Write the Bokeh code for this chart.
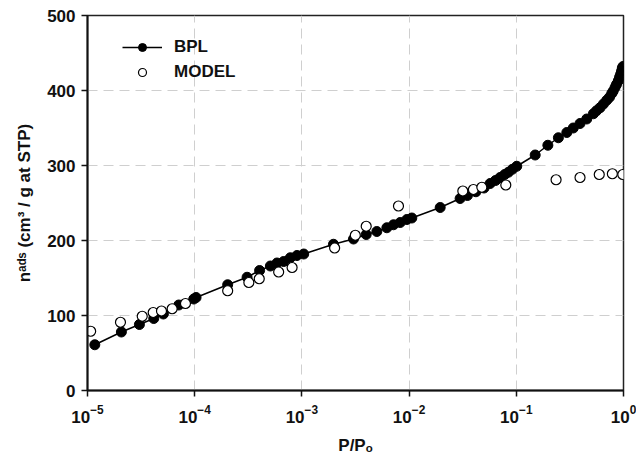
from bokeh.plotting import figure
from bokeh.models import FixedTicker, LogTickFormatter
from bokeh.embed import file_html
from bokeh.resources import INLINE

# ---- data ----
bpl_x = [1.17e-5, 2.07e-5, 3.05e-5, 4.15e-5, 5.1e-5, 7.1e-5, 9.8e-5, 1.03e-4,
         2.03e-4, 3.08e-4, 4.03e-4, 5.08e-4, 5.86e-4, 6.76e-4, 7.8e-4, 9.0e-4,
         1.04e-3, 1.97e-3, 3.03e-3, 3.98e-3, 5.0e-3, 6.2e-3, 7.16e-3, 8.26e-3,
         9.54e-3, 1.06e-2, 1.95e-2, 2.99e-2, 3.5e-2, 4.2e-2, 5.0e-2, 5.7e-2,
         6.4e-2, 7.06e-2, 7.8e-2, 8.44e-2, 9.2e-2, 0.101, 0.15, 0.197, 0.247,
         0.296, 0.34, 0.393, 0.454, 0.524, 0.56, 0.604, 0.65, 0.698, 0.74,
         0.777, 0.80, 0.834, 0.86, 0.895, 0.92, 0.942, 0.96, 0.975, 0.99]
bpl_y = [61, 78, 88, 96, 102, 114, 122, 124,
         141, 151, 160, 166, 170, 172, 177, 180,
         182, 195, 202, 208, 212, 217, 221, 224,
         228, 230, 244, 256, 260, 265, 270, 276,
         280, 284, 288, 291, 295, 299, 314, 327, 337,
         344, 350, 356, 362, 369, 373, 377, 382, 387, 391,
         396, 399, 404, 408, 413, 418, 422, 426, 430, 432]

model_x = [1.07e-5, 2.03e-5, 3.24e-5, 4.1e-5, 4.9e-5, 6.16e-5, 8.2e-5, 2.03e-4,
           3.2e-4, 4.0e-4, 6.07e-4, 8.1e-4, 2.02e-3, 3.15e-3, 3.98e-3, 7.96e-3,
           3.17e-2, 3.98e-2, 4.77e-2, 7.98e-2, 0.235, 0.393, 0.594, 0.787, 0.985]
model_y = [79, 91, 99, 104, 106, 109, 116, 133,
           144, 149, 158, 164, 190, 207, 219, 246,
           266, 268, 271, 274, 281, 284, 288, 289, 288]

x_ticks = [1e-5, 1e-4, 1e-3, 1e-2, 1e-1, 1]
y_ticks = [0, 100, 200, 300, 400, 500]

FONT = "Liberation Sans"
INK = "#111111"

p = figure(width=636, height=462, x_axis_type="log",
           x_range=(1e-5, 1), y_range=(0, 500),
           output_backend="svg", toolbar_location=None,
           min_border_left=87, min_border_right=13,
           min_border_top=15, min_border_bottom=72)
p.background_fill_color = "white"
p.border_fill_color = "white"
p.outline_line_color = "#222222"
p.outline_line_width = 1.5

# line + filled markers (BPL)
p.line(bpl_x, bpl_y, line_color="black", line_width=1.5, legend_label="BPL")
p.scatter(bpl_x, bpl_y, size=10, fill_color="black", line_color="black",
          legend_label="BPL")
# open markers (MODEL)
p.scatter(model_x, model_y, size=10, fill_color="white", line_color="black",
          line_width=1.2, legend_label="MODEL")

# axes
p.xaxis.ticker = FixedTicker(ticks=x_ticks, minor_ticks=[])
p.xaxis.formatter = LogTickFormatter()
p.yaxis.ticker = FixedTicker(ticks=y_ticks, minor_ticks=[])

for ax in (p.xaxis, p.yaxis):
    ax.axis_line_width = 2
    ax.axis_line_color = INK
    ax.major_tick_line_width = 1.5
    ax.major_tick_line_color = INK
    ax.major_tick_out = 6
    ax.major_tick_in = 0
    ax.minor_tick_out = 0
    ax.minor_tick_in = 0
    ax.major_label_text_font = FONT
    ax.major_label_text_font_style = "bold"
    ax.major_label_text_font_size = "17px"
    ax.major_label_text_color = INK
    ax.axis_label_text_font = FONT
    ax.axis_label_text_font_style = "bold"
    ax.axis_label_text_font_size = "17px"
    ax.axis_label_text_color = INK

p.xaxis.major_label_standoff = 8
p.xaxis.axis_label = "P/P\u2092"
p.xaxis.axis_label_standoff = 10
p.yaxis.major_label_standoff = 6
p.yaxis.axis_label = "n\u1d43\u1d48\u02e2 (cm\u00b3 / g at STP)"
p.yaxis.axis_label_standoff = 10

# grid
for g in (p.xgrid, p.ygrid):
    g.grid_line_color = "#cfcfcf"
    g.grid_line_width = 1
    g.grid_line_dash = "10 6"

# legend
p.legend.location = (35, 308)
p.legend.border_line_color = None
p.legend.background_fill_alpha = 0
p.legend.label_text_font = FONT
p.legend.label_text_font_style = "bold"
p.legend.label_text_font_size = "17px"
p.legend.label_text_color = INK
p.legend.glyph_width = 40
p.legend.glyph_height = 20
p.legend.spacing = 5
p.legend.padding = 5
p.legend.label_standoff = 12
p.legend.margin = 0

open("out.html", "w").write(file_html(p, INLINE))
